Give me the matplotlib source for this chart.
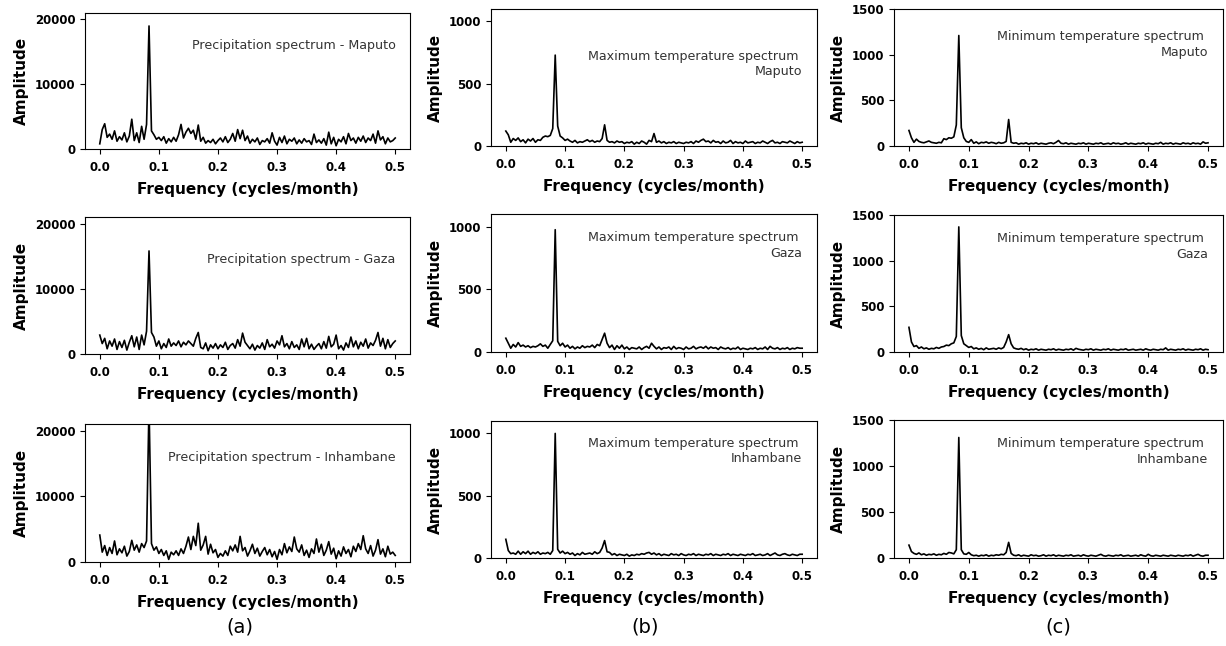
import numpy as np
import matplotlib
matplotlib.use("Agg")
import matplotlib.pyplot as plt

# frequency grid of the spectra (cycles/month), k/240 for k = 0..120
freq = np.arange(121) / 240.0

# precipitation spectra
precip_maputo = [
    800, 3000, 3900, 1800, 2300, 1500, 2800, 1200, 1900, 1400,
    2500, 1100, 2000, 4600, 1300, 2500, 1000, 3500, 1500, 3800,
    19000, 2800, 2200, 1500, 1800, 1300, 1900, 900, 1600, 1100,
    1800, 1200, 2200, 3800, 1700, 2600, 3200, 2400, 2900, 1500,
    3700, 1200, 1800, 900, 1300, 1000, 1500, 800, 1300, 1700,
    1100, 1900, 1000, 1500, 2400, 1200, 3000, 1600, 2900, 1300,
    2000, 900, 1500, 1100, 1700, 700, 1300, 1100, 1600, 900,
    2500, 1200, 600, 1800, 1000, 2000, 800, 1500, 1200, 1700,
    800, 1400, 900, 1600, 1100, 1300, 700, 2300, 1000, 1400,
    900, 1600, 600, 2600, 800, 1800, 500, 1500, 1100, 1900,
    800, 2400, 1300, 1700, 900, 1800, 1200, 2000, 1000, 1700,
    1300, 2300, 900, 2800, 1400, 1900, 800, 1700, 1100, 1300,
    1700]
precip_gaza = [
    2900, 1600, 2400, 800, 2000, 1200, 2300, 700, 1900, 1000,
    2100, 600, 1800, 2800, 1100, 2600, 700, 2900, 1400, 3500,
    15800, 3300, 2600, 1200, 2000, 800, 1600, 1000, 2300, 1200,
    1700, 1300, 2000, 1100, 1800, 1400, 2000, 1600, 1200, 2400,
    3300, 1000, 800, 1700, 500, 1400, 900, 1600, 800, 1400,
    1000, 1800, 700, 1300, 1600, 900, 2200, 1200, 3200, 1800,
    1300, 800, 1500, 600, 1300, 900, 1700, 700, 2200, 1100,
    1500, 900, 2000, 1400, 2800, 1100, 1600, 800, 1900, 1000,
    1400, 700, 2300, 1100, 2400, 800, 1500, 700, 1200, 1600,
    800, 1900, 900, 2700, 1100, 1500, 2900, 800, 1300, 600,
    1700, 1000, 2600, 1100, 2000, 800, 1800, 1200, 2300, 900,
    1700, 1300, 2100, 3300, 1200, 2400, 800, 2200, 1000, 1600,
    2000]
precip_inhambane = [
    4100, 1500, 2500, 1000, 2200, 1300, 3200, 1100, 2000, 1400,
    2400, 900, 1600, 3300, 1800, 2600, 1500, 2800, 2200, 3200,
    24000, 2800, 1800, 2300, 1300, 1900, 1000, 1700, 400, 1500,
    1100, 1700, 1000, 2000, 1300, 2400, 3800, 1900, 3900, 2500,
    5900, 1800, 2600, 3900, 1200, 2700, 1400, 1900, 700, 1300,
    900, 1700, 1000, 2400, 1700, 2600, 1500, 3900, 1700, 2200,
    900, 1700, 2700, 1300, 2100, 900, 1600, 2200, 1100, 1900,
    800, 1600, 400, 1900, 1100, 2800, 1400, 2300, 1600, 3800,
    2000, 1500, 2600, 1000, 1800, 700, 2000, 1300, 3500, 1500,
    2700, 1000, 1800, 3100, 1200, 2100, 500, 1700, 900, 2300,
    1300, 1900, 800, 2400, 1600, 2800, 1900, 4000, 2000, 1300,
    2500, 900, 1800, 3400, 1200, 2000, 800, 2400, 1200, 1500,
    1000]

# maximum temperature spectra
tmax_maputo = [
    120, 90, 30, 60, 45, 65, 35, 50, 25, 55,
    40, 60, 30, 50, 45, 70, 80, 75, 85, 140,
    730, 160, 80, 65, 45, 55, 40, 30, 45, 25,
    35, 30, 40, 50, 35, 45, 30, 40, 35, 60,
    170, 45, 30, 35, 25, 40, 30, 35, 20, 30,
    25, 35, 15, 30, 20, 40, 30, 15, 45, 35,
    100, 30, 40, 25, 35, 20, 30, 25, 35, 20,
    30, 25, 20, 30, 25, 35, 20, 40, 30, 45,
    55, 35, 40, 25, 45, 30, 35, 20, 40, 25,
    30, 45, 20, 35, 25, 30, 20, 40, 25, 30,
    35, 20, 30, 25, 40, 30, 20, 35, 45, 25,
    30, 20, 35, 30, 25, 40, 30, 20, 35, 25,
    30]
tmax_gaza = [
    110, 70, 30, 60, 40, 75, 45, 55, 40, 50,
    35, 45, 40, 50, 65, 45, 55, 30, 60, 90,
    975, 85, 50, 70, 40, 55, 30, 45, 25, 40,
    30, 50, 35, 45, 40, 55, 35, 60, 50, 100,
    150, 70, 35, 55, 20, 50, 30, 55, 25, 40,
    20, 35, 30, 25, 40, 20, 35, 45, 30, 70,
    45, 25, 40, 20, 35, 30, 40, 20, 45, 25,
    35, 30, 20, 40, 25, 30, 45, 25, 35, 40,
    30, 45, 25, 40, 30, 35, 20, 40, 30, 25,
    35, 20, 30, 25, 40, 20, 30, 25, 20, 30,
    25, 35, 20, 30, 25, 40, 20, 45, 30, 25,
    35, 20, 30, 25, 35, 20, 30, 25, 35, 30,
    30]
tmax_inhambane = [
    150, 60, 35, 40, 30, 55, 30, 50, 35, 55,
    30, 45, 35, 50, 30, 40, 35, 45, 30, 60,
    1000, 70, 40, 55, 35, 45, 30, 40, 20, 35,
    25, 45, 30, 35, 40, 30, 50, 35, 45, 80,
    140, 50, 45, 25, 35, 20, 30, 25, 20, 30,
    15, 25, 20, 30, 25, 35, 30, 40, 45, 30,
    40, 25, 35, 20, 30, 25, 20, 35, 25, 30,
    20, 35, 25, 20, 30, 25, 35, 20, 30, 25,
    20, 30, 25, 35, 20, 30, 25, 20, 30, 25,
    35, 20, 30, 25, 20, 30, 25, 20, 30, 25,
    35, 20, 25, 30, 20, 25, 35, 20, 30, 40,
    25, 20, 30, 35, 25, 20, 30, 25, 20, 30,
    30]

# minimum temperature spectra
tmin_maputo = [
    170, 90, 40, 75, 50, 40, 35, 45, 55, 40,
    35, 30, 40, 35, 80, 70, 90, 85, 100, 230,
    1210, 200, 90, 50, 40, 70, 30, 45, 25, 40,
    35, 45, 30, 40, 35, 25, 40, 30, 35, 50,
    290, 40, 30, 35, 20, 30, 25, 35, 20, 30,
    25, 35, 20, 30, 25, 20, 30, 35, 25, 40,
    60, 30, 25, 35, 20, 30, 25, 20, 30, 25,
    35, 20, 30, 25, 20, 30, 25, 35, 20, 25,
    30, 20, 35, 25, 30, 20, 25, 35, 20, 30,
    25, 20, 30, 25, 35, 20, 30, 25, 20, 30,
    25, 40, 20, 30, 25, 35, 20, 30, 25, 20,
    35, 25, 30, 20, 35, 25, 30, 20, 45, 30,
    35]
tmin_gaza = [
    270, 110, 60, 70, 40, 55, 35, 45, 30, 40,
    35, 50, 40, 55, 60, 75, 70, 90, 100, 170,
    1370, 180, 90, 70, 50, 60, 35, 45, 30, 40,
    25, 45, 30, 35, 40, 30, 45, 35, 50, 110,
    190, 90, 45, 35, 30, 40, 25, 35, 20, 30,
    25, 35, 20, 30, 25, 20, 30, 25, 35, 20,
    30, 25, 20, 30, 25, 35, 20, 40, 30, 25,
    20, 30, 25, 35, 20, 30, 25, 20, 30, 25,
    35, 20, 30, 25, 20, 30, 25, 35, 20, 25,
    30, 20, 25, 30, 20, 35, 25, 20, 30, 25,
    20, 30, 25, 45, 20, 30, 25, 20, 30, 25,
    35, 20, 30, 25, 20, 30, 25, 35, 20, 30,
    25]
tmin_inhambane = [
    140, 70, 50, 40, 55, 35, 45, 30, 40, 35,
    45, 30, 40, 35, 50, 40, 60, 55, 45, 90,
    1310, 90, 45, 40, 60, 35, 25, 30, 20, 30,
    25, 35, 20, 30, 25, 35, 30, 40, 35, 60,
    170, 50, 30, 25, 35, 20, 30, 25, 20, 35,
    25, 30, 20, 25, 35, 20, 30, 25, 35, 20,
    30, 25, 20, 30, 25, 35, 20, 25, 30, 20,
    35, 25, 20, 30, 25, 20, 30, 40, 25, 20,
    30, 25, 20, 30, 25, 35, 20, 25, 30, 20,
    25, 30, 20, 35, 25, 20, 40, 25, 20, 30,
    25, 20, 30, 25, 20, 30, 25, 20, 30, 25,
    20, 30, 25, 35, 20, 30, 40, 25, 20, 30,
    30]

series = [
    [precip_maputo, precip_gaza, precip_inhambane],
    [tmax_maputo, tmax_gaza, tmax_inhambane],
    [tmin_maputo, tmin_gaza, tmin_inhambane],
]
titles = [
    ["Precipitation spectrum - Maputo", "Precipitation spectrum - Gaza",
     "Precipitation spectrum - Inhambane"],
    ["Maximum temperature spectrum \nMaputo", "Maximum temperature spectrum \nGaza",
     "Maximum temperature spectrum \nInhambane"],
    ["Minimum temperature spectrum \nMaputo", "Minimum temperature spectrum \nGaza",
     "Minimum temperature spectrum \nInhambane"],
]
ylims = [21000, 1100, 1500]
yticks = [[0, 10000, 20000], [0, 500, 1000], [0, 500, 1000, 1500]]
panel_labels = ["(a)", "(b)", "(c)"]

# layout in pixels (figure is 1226 x 646)
W, H = 1226, 646
col_left = [85, 491, 894]
col_width = [325, 326, 329]
row_top = [[13, 217, 424], [9, 214, 421], [9, 215, 420]]
row_bottom = [[149, 354, 562], [146, 352, 558], [146, 352, 558]]
text_y = [[0.76, 0.69, 0.76], [0.60, 0.77, 0.78], [0.74, 0.77, 0.77]]
label_x = [240, 645, 1058]

fig = plt.figure(figsize=(W / 100, H / 100), dpi=100)

for c in range(3):
    for r in range(3):
        top, bot = row_top[c][r], row_bottom[c][r]
        ax = fig.add_axes([col_left[c] / W, 1 - bot / H,
                           col_width[c] / W, (bot - top) / H])
        ax.plot(freq, series[c][r], color="black", lw=1.2)
        ax.set_xlim(-0.025, 0.525)
        ax.set_ylim(0, ylims[c])
        ax.set_xticks([0.0, 0.1, 0.2, 0.3, 0.4, 0.5])
        ax.set_yticks(yticks[c])
        ax.tick_params(labelsize=8.5)
        ax.tick_params(axis="x", pad=5)
        for lab in ax.get_xticklabels() + ax.get_yticklabels():
            lab.set_fontweight("bold")
        ax.set_xlabel("Frequency (cycles/month)", fontsize=11, fontweight="bold",
                      labelpad=6)
        ax.set_ylabel("Amplitude", fontsize=11, fontweight="bold")
        ax.text(0.955, text_y[c][r], titles[c][r], transform=ax.transAxes,
                ha="right", va="center", fontsize=9.1, color="#333333",
                linespacing=1.25)
    fig.text(label_x[c] / W, 1 - 627 / H, panel_labels[c], ha="center",
             va="center", fontsize=14)

fig.savefig("out.png", dpi=100)
